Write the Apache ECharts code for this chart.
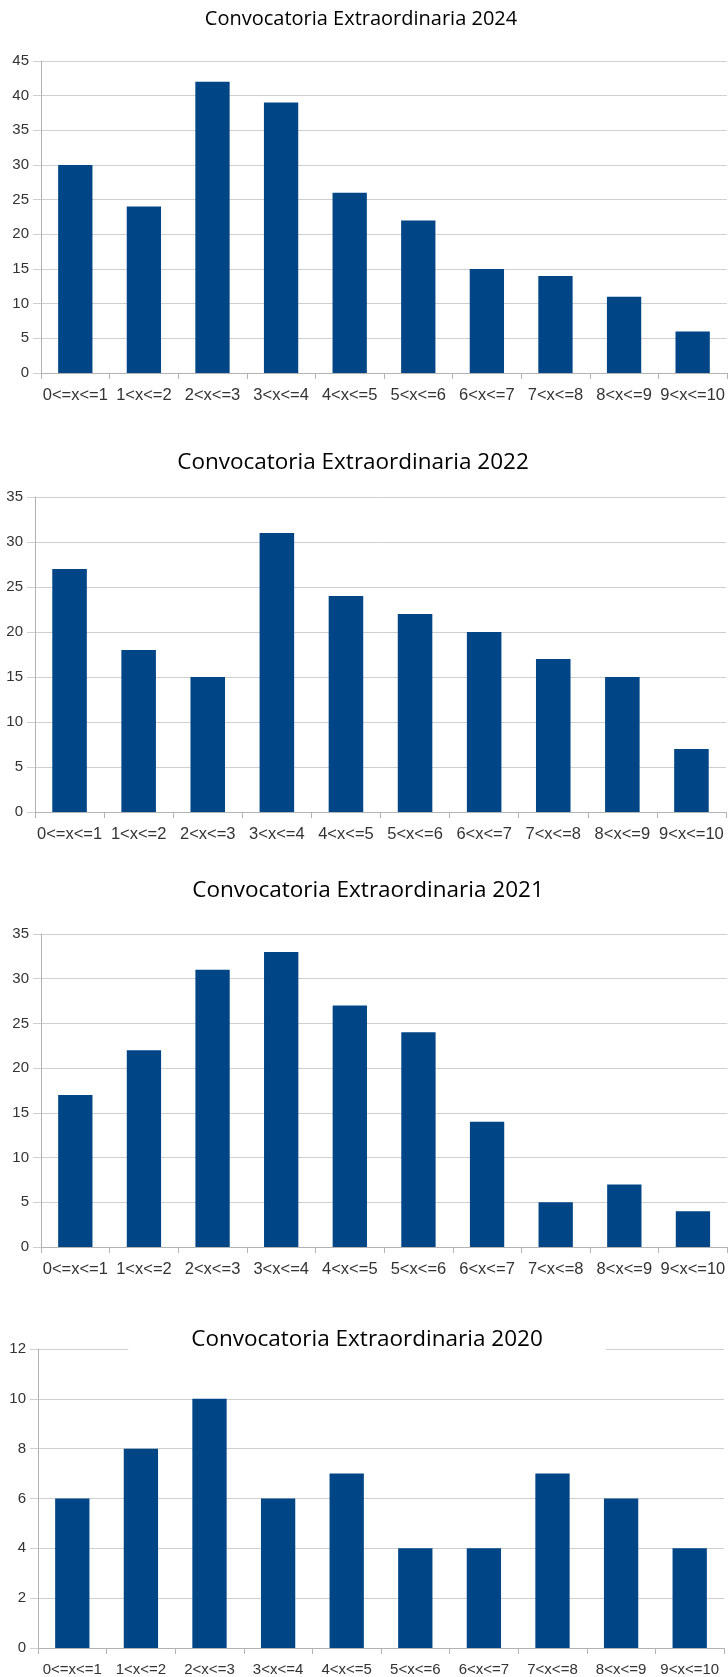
<!DOCTYPE html>
<html>
<head>
<meta charset="utf-8">
<script src="https://cdn.jsdelivr.net/npm/echarts@6/dist/echarts.min.js"></script>
<style>
  html, body { margin: 0; padding: 0; background: #fff; }
  #chart { width: 728px; height: 1677px; }
</style>
</head>
<body>
<div id="chart"></div>
<script>
// Grade bands shared by all four histograms
const categories = ['0<=x<=1', '1<x<=2', '2<x<=3', '3<x<=4', '4<x<=5',
                    '5<x<=6', '6<x<=7', '7<x<=8', '8<x<=9', '9<x<=10'];

// Number of students per grade band, one array per sitting
const titles = [
  'Convocatoria Extraordinaria 2024',
  'Convocatoria Extraordinaria 2022',
  'Convocatoria Extraordinaria 2021',
  'Convocatoria Extraordinaria 2020'
];
const counts2024 = [30, 24, 42, 39, 26, 22, 15, 14, 11, 6];
const counts2022 = [27, 18, 15, 31, 24, 22, 20, 17, 15, 7];
const counts2021 = [17, 22, 31, 33, 27, 24, 14, 5, 7, 4];
const counts2020 = [6, 8, 10, 6, 7, 4, 4, 7, 6, 4];

// Y-axis ranges (max, step) per panel
const yMax = [45, 35, 35, 12];
const yStep = [5, 5, 5, 2];

const seriesData = [counts2024, counts2022, counts2021, counts2020];

// Panel geometry in page pixels
const panels = [
  { grid: { left: 41, right: 1, top: 61, bottom: 1304 }, title: { x: 361, y: 9, size: 20 }, xFont: 16.5 },
  { grid: { left: 35, right: 2, top: 497, bottom: 865 }, title: { x: 353, y: 451, size: 22.5 }, xFont: 16.5 },
  { grid: { left: 41, right: -5, top: 934, bottom: 430 }, title: { x: 368, y: 879, size: 22.5 }, xFont: 16.5 },
  { grid: { left: 38, right: 4, top: 1349, bottom: 27 }, title: { x: 304, y: 1326, size: 22.5, boxed: true }, xFont: 15 }
];

const BAR = '#004586';
const GRID_LINE = '#cfcfcf';
const AXIS_LINE = '#b3b3b3';
const LABEL = '#333333';

const option = {
  animation: false,
  backgroundColor: '#ffffff',
  title: [],
  grid: [],
  xAxis: [],
  yAxis: [],
  series: []
};

panels.forEach((p, i) => {
  const t = {
    text: titles[i],
    left: p.title.x,
    top: p.title.y,
    textAlign: 'center',
    padding: 0,
    textStyle: {
      fontFamily: 'Open Sans',
      fontSize: p.title.size,
      fontWeight: 'normal',
      color: '#000000'
    }
  };
  if (p.title.boxed) {
    // white plate behind the title hides the top grid line
    t.backgroundColor = '#ffffff';
    t.padding = [2, 63, 6, 63];
  }
  option.title.push(t);

  option.grid.push(Object.assign({ containLabel: false }, p.grid));

  option.xAxis.push({
    type: 'category',
    gridIndex: i,
    data: categories,
    boundaryGap: true,
    axisLine: { show: true, lineStyle: { color: AXIS_LINE, width: 1 } },
    axisTick: { show: true, length: 6, lineStyle: { color: AXIS_LINE } },
    axisLabel: {
      interval: 0,
      margin: 14,
      color: LABEL,
      fontFamily: 'Liberation Sans',
      fontSize: p.xFont
    },
    splitLine: { show: false }
  });

  option.yAxis.push({
    type: 'value',
    gridIndex: i,
    min: 0,
    max: yMax[i],
    interval: yStep[i],
    axisLine: { show: true, lineStyle: { color: AXIS_LINE, width: 1 } },
    axisTick: { show: true, length: 8, lineStyle: { color: GRID_LINE } },
    axisLabel: {
      margin: 12,
      color: LABEL,
      fontFamily: 'Liberation Sans',
      fontSize: 15
    },
    splitLine: { show: true, lineStyle: { color: GRID_LINE, width: 1 } }
  });

  option.series.push({
    type: 'bar',
    xAxisIndex: i,
    yAxisIndex: i,
    data: seriesData[i],
    barWidth: '50%',
    itemStyle: { color: BAR }
  });
});

const chart = echarts.init(document.getElementById('chart'), null, { renderer: 'canvas' });
chart.setOption(option);
</script>
</body>
</html>
